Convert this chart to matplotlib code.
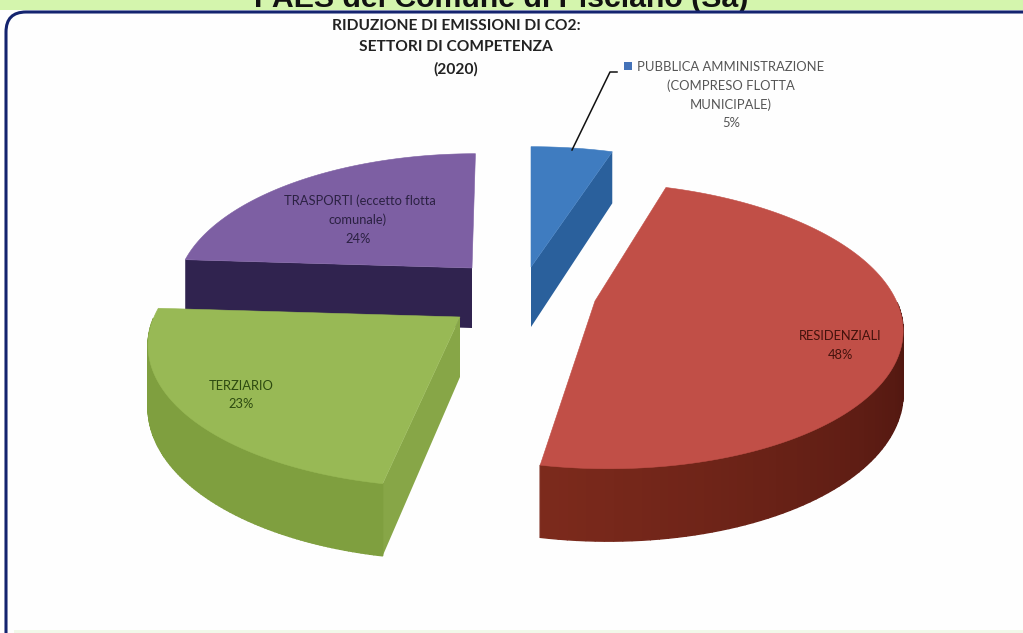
import numpy as np
import matplotlib
matplotlib.use("Agg")
import matplotlib.pyplot as plt
from matplotlib.patches import Polygon, FancyBboxPatch, Rectangle
from matplotlib.colors import to_rgb

# chart values, clockwise from 12 o'clock
sectors = ["PUBBLICA AMMINISTRAZIONE", "RESIDENZIALI", "TERZIARIO", "TRASPORTI"]
shares = [5, 48, 23, 24]

# explosion of each slice: where its pie centre lands, in pixels
centres = {"PUBBLICA AMMINISTRAZIONE": (531, 267), "RESIDENZIALI": (595, 301),
           "TERZIARIO": (460, 317), "TRASPORTI": (472, 268)}
radii = {"PUBBLICA AMMINISTRAZIONE": 1.0, "RESIDENZIALI": 0.985, "TERZIARIO": 1.0, "TRASPORTI": 0.95}
shears = {"PUBBLICA AMMINISTRAZIONE": 0.0, "RESIDENZIALI": 0.08, "TERZIARIO": -0.05, "TRASPORTI": -0.03}
top_colors = {"PUBBLICA AMMINISTRAZIONE": "#3f7cc0", "RESIDENZIALI": "#c14f47",
              "TERZIARIO": "#98b955", "TRASPORTI": "#7d5fa3"}
rim_colors = {"RESIDENZIALI": ("#4a140e", "#7c2a1c"), "TERZIARIO": ("#7f9f3f", "#7f9f3f")}
cut_colors = {"PUBBLICA AMMINISTRAZIONE": "#2a609c", "TERZIARIO": "#87a647", "TRASPORTI": "#30234f"}

RX, RY, PERSP, DEPTH = 306, 141, 0.172, 60


def project(theta, name):
    cx, cy = centres[name]
    r = radii[name]
    s = 1 / (1 + PERSP * np.cos(theta))
    y = cy - RY * r * np.cos(theta) * s
    x = cx + RX * r * np.sin(theta) * s + shears[name] * (y - cy)
    return x, y, s


def dropped(theta, name):
    x, y, s = project(theta, name)
    return x, y + DEPTH * s


fig = plt.figure(figsize=(10.23, 6.33), dpi=100)
ax = fig.add_axes([0, 0, 1, 1])
ax.set_xlim(0, 1023)
ax.set_ylim(633, 0)
ax.axis("off")

# slide background: green title band, then the rounded white panel
ax.add_patch(Rectangle((0, 0), 1023, 10, fc="#d4f5ad", ec="none", zorder=0))
ax.text(501, 7, "PAES del Comune di Pisciano (Sa)", ha="center", va="baseline",
        family="Liberation Sans", weight="bold", fontsize=21.8, color="#111111", zorder=0.5)
ax.add_patch(FancyBboxPatch((24, 30), 1040, 620, boxstyle="round,pad=18,rounding_size=20",
                            fc="#fefefe", ec="#14246f", lw=2.2, zorder=1))
ax.add_patch(Rectangle((14, 630), 1009, 3, fc="#f1f8e9", ec="none", zorder=2))

edges = np.radians(np.cumsum([0] + shares) * 3.6)
spans = dict(zip(sectors, zip(edges[:-1], edges[1:])))


def draw_slice(name, cuts):
    a, b = spans[name]
    c = centres[name]
    thetas = np.linspace(a, b, 120)
    # cut faces first, they sit behind the rim
    for theta in cuts:
        p1 = project(theta, name)[:2]
        p2 = dropped(theta, name)
        ax.add_patch(Polygon([p1, p2, (c[0], c[1] + DEPTH), c], fc=cut_colors[name], ec="none", zorder=3))
    # rim, only the part that faces the viewer
    if name in rim_colors:
        front = thetas[np.cos(thetas) < 0]
        c0, c1 = to_rgb(rim_colors[name][0]), to_rgb(rim_colors[name][1])
        for i in range(len(front) - 1):
            t0, t1 = front[i], front[i + 1]
            f = i / (len(front) - 2)
            col = tuple(np.array(c0) * (1 - f) + np.array(c1) * f)
            ax.add_patch(Polygon([project(t0, name)[:2], project(t1, name)[:2], dropped(t1, name), dropped(t0, name)],
                                 fc=col, ec=col, lw=1, zorder=3))
    top = [c] + [project(t, name)[:2] for t in thetas]
    ax.add_patch(Polygon(top, fc=top_colors[name], ec=top_colors[name], lw=0.4, zorder=4))


draw_slice("TRASPORTI", [spans["TRASPORTI"][0]])
draw_slice("PUBBLICA AMMINISTRAZIONE", [spans["PUBBLICA AMMINISTRAZIONE"][1]])
draw_slice("RESIDENZIALI", [])
draw_slice("TERZIARIO", [spans["TERZIARIO"][0]])

# texts
font = "Lato"
ax.text(456, 26, "RIDUZIONE DI EMISSIONI DI CO2:", ha="center", va="center", family=font,
        weight="bold", fontsize=11.2, color="#222222", zorder=6)
ax.text(456, 47, "SETTORI DI COMPETENZA", ha="center", va="center", family=font,
        weight="bold", fontsize=11.2, color="#222222", zorder=6)
ax.text(456, 69, "(2020)", ha="center", va="center", family=font,
        weight="bold", fontsize=11.2, color="#222222", zorder=6)

ax.add_patch(Rectangle((624, 62), 8, 8, fc="#4472b8", ec="none", zorder=6))
ax.text(731, 67, "PUBBLICA AMMINISTRAZIONE", ha="center", va="center", family=font, fontsize=9.4, color="#555555", zorder=6)
ax.text(731, 86, "(COMPRESO FLOTTA", ha="center", va="center", family=font, fontsize=9.4, color="#555555", zorder=6)
ax.text(731, 105, "MUNICIPALE)", ha="center", va="center", family=font, fontsize=9.4, color="#555555", zorder=6)
ax.text(731, 123, "5%", ha="center", va="center", family=font, fontsize=9.4, color="#555555", zorder=6)
ax.plot([572, 610, 617], [150, 72, 72], color="#111111", lw=1.1, zorder=6)

ax.text(360, 201, "TRASPORTI (eccetto flotta", ha="center", va="center", family=font, fontsize=9.3, color="#2b2142", zorder=6)
ax.text(358, 220, "comunale)", ha="center", va="center", family=font, fontsize=9.3, color="#2b2142", zorder=6)
ax.text(358, 239, "24%", ha="center", va="center", family=font, fontsize=9.3, color="#2b2142", zorder=6)
ax.text(241, 386, "TERZIARIO", ha="center", va="center", family=font, fontsize=9.3, color="#2d4a10", zorder=6)
ax.text(241, 404, "23%", ha="center", va="center", family=font, fontsize=9.3, color="#2d4a10", zorder=6)
ax.text(840, 336, "RESIDENZIALI", ha="center", va="center", family=font, fontsize=9.3, color="#43120c", zorder=6)
ax.text(840, 355, "48%", ha="center", va="center", family=font, fontsize=9.3, color="#43120c", zorder=6)

fig.savefig("out.png", dpi=100)
